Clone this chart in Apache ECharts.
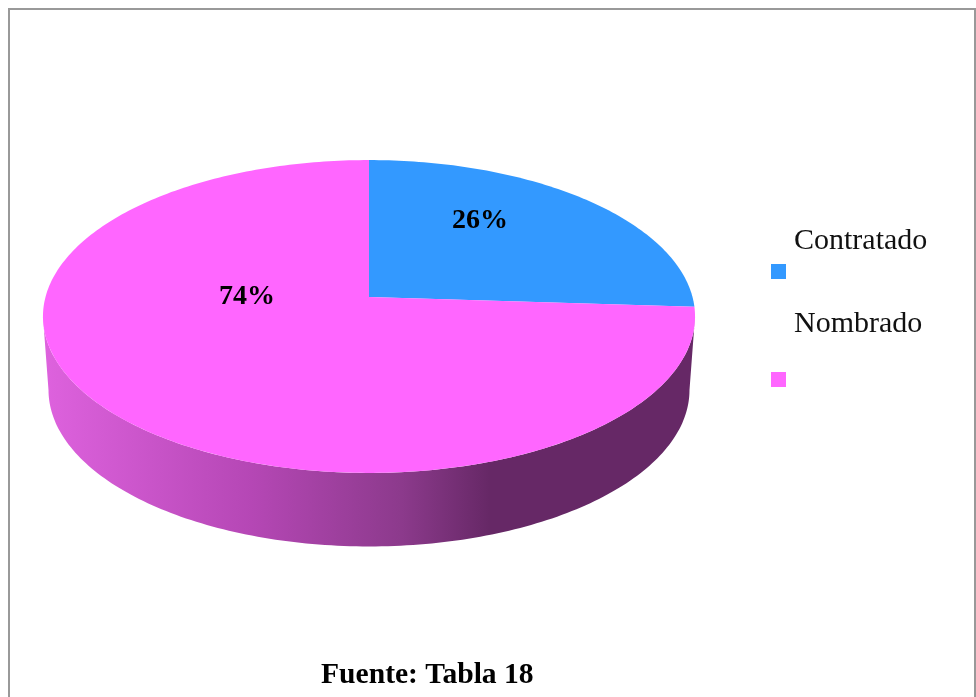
<!DOCTYPE html>
<html>
<head>
<meta charset="utf-8">
<style>html,body{margin:0;padding:0;background:#fff}#c{width:976px;height:697px}</style>
<script src="https://cdn.jsdelivr.net/npm/echarts@6/dist/echarts.min.js"></script>
</head>
<body>
<div id="c"></div>
<script>
var categories = ['Contratado', 'Nombrado'];
var values = [26, 74];
var colors = ['#3399FF', '#FF66FF'];
var footnote = 'Fuente: Tabla 18';

// Perspective disc geometry (layout only)
var geo = {cx: 369, cy: 297, rx: 323.5, ry: 154, persp: 0.1246, depth: 73.5, lowerScale: 0.983};
var labelAnchors = [[480, 221], [247, 297]];
var wallStops = [
  {offset: 0, color: '#DE62DE'},
  {offset: 0.32, color: '#B547B5'},
  {offset: 0.55, color: '#8C3A8C'},
  {offset: 0.685, color: '#662866'},
  {offset: 1, color: '#662866'}
];

var total = values.reduce(function (a, b) { return a + b; }, 0);

function project(deg, scale, dy) {
  var t = deg * Math.PI / 180, u = Math.sin(t), v = Math.cos(t), w = 1 / (1 + geo.persp * v);
  return [geo.cx + geo.rx * scale * u * w, geo.cy + dy - geo.ry * v * w];
}
function arc(from, to, scale, dy) {
  var pts = [], n = Math.max(2, Math.ceil(Math.abs(to - from)));
  for (var i = 0; i <= n; i++) pts.push(project(from + (to - from) * i / n, scale, dy));
  return pts;
}
// Angles where the top ellipse is widest: the visible part of the side wall
var wallFrom = 90 + Math.asin(geo.persp) * 180 / Math.PI;
var wallTo = 360 - wallFrom;

function renderSlice(index) {
  return function (params, api) {
    var before = values.slice(0, index).reduce(function (a, b) { return a + b; }, 0);
    var start = before / total * 360;
    var end = start + api.value(0) / total * 360;
    var children = [];
    var a = Math.max(start, wallFrom), b = Math.min(end, wallTo);
    if (b > a) {
      children.push({
        type: 'polygon',
        shape: {points: arc(a, b, 1, 0).concat(arc(b, a, geo.lowerScale, geo.depth))},
        style: {fill: {type: 'linear', x: 43, y: 0, x2: 695, y2: 0, global: true, colorStops: wallStops}}
      });
    }
    children.push({
      type: 'polygon',
      shape: {points: [[geo.cx, geo.cy]].concat(arc(start, end, 1, 0))},
      style: {fill: colors[index]}
    });
    children.push({
      type: 'text',
      z2: 10,
      style: {
        text: Math.round(api.value(0) / total * 100) + '%',
        x: labelAnchors[index][0], y: labelAnchors[index][1],
        align: 'center', verticalAlign: 'middle',
        fontFamily: 'Liberation Serif', fontWeight: 'bold', fontSize: 28, fill: '#000'
      }
    });
    return {type: 'group', children: children};
  };
}

function legendFor(i, top, pad) {
  return {
    left: 771, top: top, padding: 0, orient: 'vertical',
    data: [categories[i]], icon: 'rect', itemWidth: 15, itemHeight: 15, selectedMode: false,
    formatter: '{a|{name}}',
    textStyle: {rich: {a: {fontFamily: 'Liberation Serif', fontSize: 30, color: '#111', padding: [0, 0, pad, 3]}}}
  };
}

var chart = echarts.init(document.getElementById('c'), null, {renderer: 'canvas'});
chart.setOption({
  animation: false,
  backgroundColor: '#fff',
  title: {
    text: footnote, left: 321, top: 660, padding: 0,
    textStyle: {fontFamily: 'Liberation Serif', fontWeight: 'bold', fontSize: 29.6, color: '#000'}
  },
  legend: [legendFor(0, 226.5, 60), legendFor(1, 309, 111)],
  graphic: [{
    type: 'rect', silent: true, z: -1,
    shape: {x: 9, y: 9, width: 966, height: 700},
    style: {fill: 'none', stroke: '#999', lineWidth: 2}
  }],
  series: categories.map(function (name, i) {
    return {
      type: 'custom', name: name, coordinateSystem: 'none',
      itemStyle: {color: colors[i]},
      renderItem: renderSlice(i),
      data: [values[i]]
    };
  })
});
</script>
</body>
</html>
